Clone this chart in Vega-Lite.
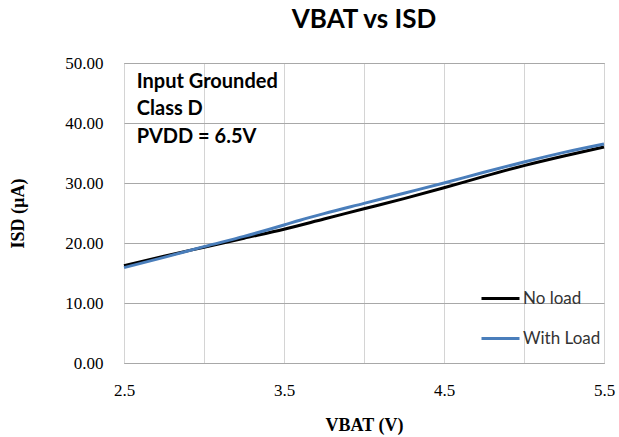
{
  "$schema": "https://vega.github.io/schema/vega-lite/v6.json",
  "width": 480,
  "height": 300,
  "autosize": {"type": "none"},
  "padding": {"left": 124, "top": 63, "right": 15, "bottom": 74},
  "background": "#ffffff",
  "config": {
    "view": {"stroke": "#868686", "strokeWidth": 1},
    "axis": {"domain": false, "ticks": false}
  },
  "title": {
    "text": "VBAT vs ISD",
    "font": "Lato",
    "fontSize": 26,
    "fontWeight": "bold",
    "color": "#000000",
    "anchor": "middle",
    "offset": 21
  },
  "datasets": {
    "curves": [
      {"series": "No load", "vbat": 2.5, "isd": 16.2},
      {"series": "No load", "vbat": 2.75, "isd": 17.8},
      {"series": "No load", "vbat": 3.0, "isd": 19.3},
      {"series": "No load", "vbat": 3.25, "isd": 20.8},
      {"series": "No load", "vbat": 3.5, "isd": 22.3},
      {"series": "No load", "vbat": 3.75, "isd": 24.0},
      {"series": "No load", "vbat": 4.0, "isd": 25.7},
      {"series": "No load", "vbat": 4.25, "isd": 27.4},
      {"series": "No load", "vbat": 4.5, "isd": 29.2},
      {"series": "No load", "vbat": 4.75, "isd": 31.1},
      {"series": "No load", "vbat": 5.0, "isd": 32.9},
      {"series": "No load", "vbat": 5.25, "isd": 34.5},
      {"series": "No load", "vbat": 5.5, "isd": 36.0},
      {"series": "With Load", "vbat": 2.5, "isd": 15.9},
      {"series": "With Load", "vbat": 2.75, "isd": 17.6},
      {"series": "With Load", "vbat": 3.0, "isd": 19.4},
      {"series": "With Load", "vbat": 3.25, "isd": 21.1},
      {"series": "With Load", "vbat": 3.5, "isd": 23.0},
      {"series": "With Load", "vbat": 3.6, "isd": 23.8},
      {"series": "With Load", "vbat": 3.75, "isd": 24.9},
      {"series": "With Load", "vbat": 4.0, "isd": 26.6},
      {"series": "With Load", "vbat": 4.25, "isd": 28.3},
      {"series": "With Load", "vbat": 4.5, "isd": 30.0},
      {"series": "With Load", "vbat": 4.75, "isd": 31.8},
      {"series": "With Load", "vbat": 5.0, "isd": 33.5},
      {"series": "With Load", "vbat": 5.25, "isd": 35.1},
      {"series": "With Load", "vbat": 5.5, "isd": 36.5}
    ],
    "notes": [
      {"label": "Input Grounded", "vbat": 2.58, "isd": 46.8},
      {"label": "Class D", "vbat": 2.58, "isd": 42.3},
      {"label": "PVDD = 6.5V", "vbat": 2.58, "isd": 37.7}
    ]
  },
  "layer": [
    {
      "data": {"name": "curves"},
      "mark": {"type": "line", "strokeWidth": 3, "interpolate": "monotone"},
      "encoding": {
        "x": {
          "field": "vbat",
          "type": "quantitative",
          "scale": {"domain": [2.5, 5.5], "nice": false, "zero": false},
          "axis": {
            "title": "VBAT (V)",
            "titleFont": "Liberation Serif",
            "titleFontSize": 18,
            "titleFontWeight": "bold",
            "titleColor": "#000000",
            "titlePadding": 18,
            "values": [2.5, 3.0, 3.5, 4.0, 4.5, 5.0, 5.5],
            "labelExpr": "(datum.value * 2) % 2 === 1 ? format(datum.value, '.1f') : ''",
            "labelFont": "Liberation Serif",
            "labelFontSize": 17,
            "labelColor": "#000000",
            "labelPadding": 19,
            "labelFlush": false,
            "labelOverlap": false,
            "grid": true,
            "gridColor": "#d4d4d4"
          }
        },
        "y": {
          "field": "isd",
          "type": "quantitative",
          "scale": {"domain": [0, 50], "nice": false},
          "axis": {
            "title": "ISD (µA)",
            "titleFont": "Liberation Serif",
            "titleFontSize": 18,
            "titleFontWeight": "bold",
            "titleColor": "#000000",
            "titleX": -106,
            "titleY": 150,
            "titleAngle": 270,
            "titleAlign": "center",
            "titleBaseline": "middle",
            "values": [0, 5, 10, 15, 20, 25, 30, 35, 40, 45, 50],
            "labelExpr": "datum.value % 10 === 0 ? format(datum.value, '.2f') : ''",
            "labelFont": "Liberation Serif",
            "labelFontSize": 17,
            "labelColor": "#000000",
            "labelPadding": 21,
            "labelFlush": false,
            "labelOverlap": false,
            "grid": true,
            "gridColor": {"condition": {"test": "datum.value % 10 === 0", "value": "#a8a8a8"}, "value": "#d4d4d4"}
          }
        },
        "color": {
          "field": "series",
          "type": "nominal",
          "scale": {"domain": ["No load", "With Load"], "range": ["#000000", "#4a7ebb"]},
          "legend": {
            "title": null,
            "orient": "none",
            "legendX": 356,
            "legendY": 215,
            "symbolType": "stroke",
            "symbolSize": 1444,
            "symbolStrokeWidth": 3,
            "labelFont": "Lato",
            "labelFontSize": 17,
            "labelColor": "#333333",
            "labelOffset": 2,
            "rowPadding": 11
          }
        }
      }
    },
    {
      "data": {"name": "notes"},
      "mark": {"type": "text", "align": "left", "baseline": "middle", "font": "Lato", "fontSize": 20, "fontWeight": "bold", "color": "#000000"},
      "encoding": {
        "x": {"field": "vbat", "type": "quantitative"},
        "y": {"field": "isd", "type": "quantitative"},
        "text": {"field": "label"}
      }
    }
  ]
}
